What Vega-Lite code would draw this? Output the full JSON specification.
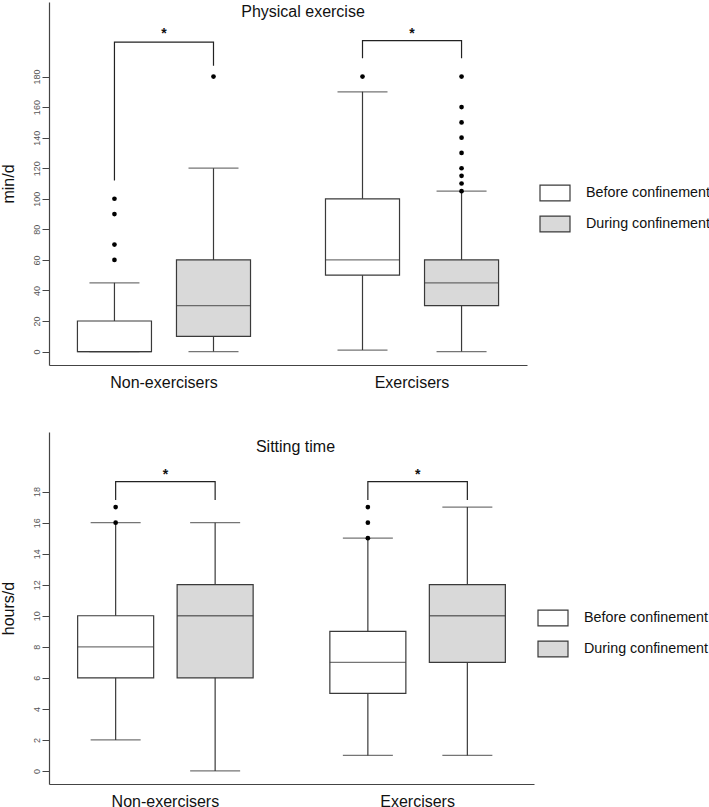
{
  "$schema": "https://vega.github.io/schema/vega-lite/v6.json",
  "padding": {"left": 0, "top": 2, "right": 0, "bottom": 0},
  "spacing": 42,
  "config": {
    "view": {"stroke": null},
    "font": "Liberation Sans",
    "axis": {"grid": false, "domainColor": "#444", "tickColor": "#444", "domainWidth": 1.2, "labelOverlap": false},
    "axisY": {"labelAngle": -90, "labelAlign": "center", "labelBaseline": "bottom", "labelFontSize": 9, "labelColor": "#555", "labelPadding": 1, "tickSize": 7, "labelOverlap": false,
      "titleFontSize": 16, "titleFontWeight": "normal", "titleColor": "#111", "titlePadding": 16},
    "legend": {"padding": 0}
  },
  "resolve": {"scale": {"x": "independent", "y": "independent", "fill": "independent", "xOffset": "independent"}, "legend": {"fill": "independent"}},
  "vconcat": [
    {
      "width": 478,
      "height": 363,
      "title": {"text": "Physical exercise", "anchor": "middle", "frame": "group", "offset": -18, "dx": 15, "fontSize": 16, "fontWeight": "normal", "font": "Liberation Sans", "color": "#111"},
      "encoding": {
        "x": {"field": "group", "type": "nominal", "sort": ["Non-exercisers", "Exercisers"], "scale": {"paddingInner": 0.2, "paddingOuter": 0.0635},
          "axis": {"title": null, "ticks": false, "labelAngle": 0, "labelFontSize": 16, "labelPadding": 9, "labelColor": "#111"}}
      },
      "layer": [
        {
          "data": {"values": [
            {"group": "Non-exercisers", "cond": "Before confinement", "lo": 0, "q1": 0, "med": 0, "q3": 20, "hi": 45},
            {"group": "Non-exercisers", "cond": "During confinement", "lo": 0, "q1": 10, "med": 30, "q3": 60, "hi": 120},
            {"group": "Exercisers", "cond": "Before confinement", "lo": 1, "q1": 50, "med": 60, "q3": 100, "hi": 170},
            {"group": "Exercisers", "cond": "During confinement", "lo": 0, "q1": 30, "med": 45, "q3": 60, "hi": 105}
          ]},
          "encoding": {
            "xOffset": {"field": "cond", "type": "nominal", "sort": ["Before confinement", "During confinement"], "scale": {"paddingInner": 0.2525, "paddingOuter": 0.128}}
          },
          "layer": [
            {"mark": {"type": "rule", "color": "#3a3a3a", "strokeWidth": 1.2},
             "encoding": {"y": {"field": "lo", "type": "quantitative", "scale": {"domain": [-8.8, 228.8], "nice": false, "zero": false},
               "axis": {"title": "min/d", "values": [0, 20, 40, 60, 80, 100, 120, 140, 160, 180]}},
               "y2": {"field": "hi"}}},
            {"mark": {"type": "bar", "stroke": "#3a3a3a", "strokeWidth": 1.2},
             "encoding": {"y": {"field": "q1", "type": "quantitative", "axis": {"title": "min/d", "values": [0, 20, 40, 60, 80, 100, 120, 140, 160, 180]}}, "y2": {"field": "q3"},
               "fill": {"field": "cond", "type": "nominal", "scale": {"domain": ["Before confinement", "During confinement"], "range": ["#ffffff", "#d9d9d9"]},
                 "legend": {"title": null, "orient": "none", "legendX": 490, "legendY": 175, "symbolType": "M-1,-0.53H1V0.53H-1Z", "symbolSize": 900,
                   "symbolStrokeColor": "#3a3a3a", "symbolStrokeWidth": 1.2, "labelFontSize": 14.3, "labelColor": "#111", "labelOffset": 15, "rowPadding": 4}}}},
            {"mark": {"type": "tick", "color": "#3a3a3a", "thickness": 1.3, "size": 74, "orient": "horizontal"},
             "encoding": {"y": {"field": "med", "type": "quantitative", "axis": {"title": "min/d", "values": [0, 20, 40, 60, 80, 100, 120, 140, 160, 180]}}}},
            {"mark": {"type": "tick", "color": "#3a3a3a", "thickness": 1.2, "size": 50, "orient": "horizontal"},
             "encoding": {"y": {"field": "lo", "type": "quantitative", "axis": {"title": "min/d", "values": [0, 20, 40, 60, 80, 100, 120, 140, 160, 180]}}}},
            {"mark": {"type": "tick", "color": "#3a3a3a", "thickness": 1.2, "size": 50, "orient": "horizontal"},
             "encoding": {"y": {"field": "hi", "type": "quantitative", "axis": {"title": "min/d", "values": [0, 20, 40, 60, 80, 100, 120, 140, 160, 180]}}}}
          ]
        },
        {
          "data": {"values": [
            {"group": "Non-exercisers", "cond": "Before confinement", "v": 60},
            {"group": "Non-exercisers", "cond": "Before confinement", "v": 70},
            {"group": "Non-exercisers", "cond": "Before confinement", "v": 90},
            {"group": "Non-exercisers", "cond": "Before confinement", "v": 100},
            {"group": "Non-exercisers", "cond": "During confinement", "v": 180},
            {"group": "Exercisers", "cond": "Before confinement", "v": 180},
            {"group": "Exercisers", "cond": "During confinement", "v": 105},
            {"group": "Exercisers", "cond": "During confinement", "v": 110},
            {"group": "Exercisers", "cond": "During confinement", "v": 115},
            {"group": "Exercisers", "cond": "During confinement", "v": 120},
            {"group": "Exercisers", "cond": "During confinement", "v": 130},
            {"group": "Exercisers", "cond": "During confinement", "v": 140},
            {"group": "Exercisers", "cond": "During confinement", "v": 150},
            {"group": "Exercisers", "cond": "During confinement", "v": 160},
            {"group": "Exercisers", "cond": "During confinement", "v": 180}
          ]},
          "mark": {"type": "point", "filled": true, "color": "#000", "size": 22, "opacity": 1},
          "encoding": {"xOffset": {"field": "cond", "type": "nominal", "sort": ["Before confinement", "During confinement"]}, "y": {"field": "v", "type": "quantitative", "axis": {"title": "min/d", "values": [0, 20, 40, 60, 80, 100, 120, 140, 160, 180]}}}
        },
        {
          "data": {"values": [
            {"group": "Non-exercisers", "cond": "Before confinement", "v": 112, "ord": 1},
            {"group": "Non-exercisers", "cond": "Before confinement", "v": 202.6, "ord": 2},
            {"group": "Non-exercisers", "cond": "During confinement", "v": 202.6, "ord": 3},
            {"group": "Non-exercisers", "cond": "During confinement", "v": 187, "ord": 4},
            {"group": "Exercisers", "cond": "Before confinement", "v": 192, "ord": 1},
            {"group": "Exercisers", "cond": "Before confinement", "v": 203.5, "ord": 2},
            {"group": "Exercisers", "cond": "During confinement", "v": 203.5, "ord": 3},
            {"group": "Exercisers", "cond": "During confinement", "v": 192, "ord": 4}
          ]},
          "mark": {"type": "line", "color": "#222", "strokeWidth": 1.2},
          "encoding": {"xOffset": {"field": "cond", "type": "nominal", "sort": ["Before confinement", "During confinement"]}, "y": {"field": "v", "type": "quantitative", "axis": {"title": "min/d", "values": [0, 20, 40, 60, 80, 100, 120, 140, 160, 180]}}, "detail": {"field": "group"}, "order": {"field": "ord", "type": "quantitative"}}
        },
        {
          "data": {"values": [
            {"group": "Non-exercisers", "v": 205, "s": "*"},
            {"group": "Exercisers", "v": 205.5, "s": "*"}
          ]},
          "mark": {"type": "text", "fontSize": 14, "fontWeight": "bold", "baseline": "alphabetic", "color": "#111"},
          "encoding": {"y": {"field": "v", "type": "quantitative", "axis": {"title": "min/d", "values": [0, 20, 40, 60, 80, 100, 120, 140, 160, 180]}}, "text": {"field": "s"}}
        }
      ]
    },
    {
      "width": 485,
      "height": 352,
      "title": {"text": "Sitting time", "anchor": "middle", "frame": "group", "offset": -23, "dx": 4, "fontSize": 16, "fontWeight": "normal", "font": "Liberation Sans", "color": "#111"},
      "encoding": {
        "x": {"field": "group", "type": "nominal", "sort": ["Non-exercisers", "Exercisers"], "scale": {"paddingInner": 0.2, "paddingOuter": 0.0615},
          "axis": {"title": null, "ticks": false, "labelAngle": 0, "labelFontSize": 16, "labelPadding": 9, "labelColor": "#111"}}
      },
      "layer": [
        {
          "data": {"values": [
            {"group": "Non-exercisers", "cond": "Before confinement", "lo": 2, "q1": 6, "med": 8, "q3": 10, "hi": 16},
            {"group": "Non-exercisers", "cond": "During confinement", "lo": 0, "q1": 6, "med": 10, "q3": 12, "hi": 16},
            {"group": "Exercisers", "cond": "Before confinement", "lo": 1, "q1": 5, "med": 7, "q3": 9, "hi": 15},
            {"group": "Exercisers", "cond": "During confinement", "lo": 1, "q1": 7, "med": 10, "q3": 12, "hi": 17}
          ]},
          "encoding": {
            "xOffset": {"field": "cond", "type": "nominal", "sort": ["Before confinement", "During confinement"], "scale": {"paddingInner": 0.236, "paddingOuter": 0.132}}
          },
          "layer": [
            {"mark": {"type": "rule", "color": "#3a3a3a", "strokeWidth": 1.2},
             "encoding": {"y": {"field": "lo", "type": "quantitative", "scale": {"domain": [-0.84, 21.84], "nice": false, "zero": false},
               "axis": {"title": "hours/d", "values": [0, 2, 4, 6, 8, 10, 12, 14, 16, 18]}},
               "y2": {"field": "hi"}}},
            {"mark": {"type": "bar", "stroke": "#3a3a3a", "strokeWidth": 1.2},
             "encoding": {"y": {"field": "q1", "type": "quantitative", "axis": {"title": "hours/d", "values": [0, 2, 4, 6, 8, 10, 12, 14, 16, 18]}}, "y2": {"field": "q3"},
               "fill": {"field": "cond", "type": "nominal", "scale": {"domain": ["Before confinement", "During confinement"], "range": ["#ffffff", "#d9d9d9"]},
                 "legend": {"title": null, "orient": "none", "legendX": 488, "legendY": 170, "symbolType": "M-1,-0.53H1V0.53H-1Z", "symbolSize": 900,
                   "symbolStrokeColor": "#3a3a3a", "symbolStrokeWidth": 1.2, "labelFontSize": 14.3, "labelColor": "#111", "labelOffset": 15, "rowPadding": 4}}}},
            {"mark": {"type": "tick", "color": "#3a3a3a", "thickness": 1.3, "size": 76, "orient": "horizontal"},
             "encoding": {"y": {"field": "med", "type": "quantitative", "axis": {"title": "hours/d", "values": [0, 2, 4, 6, 8, 10, 12, 14, 16, 18]}}}},
            {"mark": {"type": "tick", "color": "#3a3a3a", "thickness": 1.2, "size": 50, "orient": "horizontal"},
             "encoding": {"y": {"field": "lo", "type": "quantitative", "axis": {"title": "hours/d", "values": [0, 2, 4, 6, 8, 10, 12, 14, 16, 18]}}}},
            {"mark": {"type": "tick", "color": "#3a3a3a", "thickness": 1.2, "size": 50, "orient": "horizontal"},
             "encoding": {"y": {"field": "hi", "type": "quantitative", "axis": {"title": "hours/d", "values": [0, 2, 4, 6, 8, 10, 12, 14, 16, 18]}}}}
          ]
        },
        {
          "data": {"values": [
            {"group": "Non-exercisers", "cond": "Before confinement", "v": 16},
            {"group": "Non-exercisers", "cond": "Before confinement", "v": 17},
            {"group": "Exercisers", "cond": "Before confinement", "v": 15},
            {"group": "Exercisers", "cond": "Before confinement", "v": 16},
            {"group": "Exercisers", "cond": "Before confinement", "v": 17}
          ]},
          "mark": {"type": "point", "filled": true, "color": "#000", "size": 22, "opacity": 1},
          "encoding": {"xOffset": {"field": "cond", "type": "nominal", "sort": ["Before confinement", "During confinement"]}, "y": {"field": "v", "type": "quantitative", "axis": {"title": "hours/d", "values": [0, 2, 4, 6, 8, 10, 12, 14, 16, 18]}}}
        },
        {
          "data": {"values": [
            {"group": "Non-exercisers", "cond": "Before confinement", "v": 17.46, "ord": 1},
            {"group": "Non-exercisers", "cond": "Before confinement", "v": 18.64, "ord": 2},
            {"group": "Non-exercisers", "cond": "During confinement", "v": 18.64, "ord": 3},
            {"group": "Non-exercisers", "cond": "During confinement", "v": 17.46, "ord": 4},
            {"group": "Exercisers", "cond": "Before confinement", "v": 17.46, "ord": 1},
            {"group": "Exercisers", "cond": "Before confinement", "v": 18.64, "ord": 2},
            {"group": "Exercisers", "cond": "During confinement", "v": 18.64, "ord": 3},
            {"group": "Exercisers", "cond": "During confinement", "v": 17.46, "ord": 4}
          ]},
          "mark": {"type": "line", "color": "#222", "strokeWidth": 1.2},
          "encoding": {"xOffset": {"field": "cond", "type": "nominal", "sort": ["Before confinement", "During confinement"]}, "y": {"field": "v", "type": "quantitative", "axis": {"title": "hours/d", "values": [0, 2, 4, 6, 8, 10, 12, 14, 16, 18]}}, "detail": {"field": "group"}, "order": {"field": "ord", "type": "quantitative"}}
        },
        {
          "data": {"values": [
            {"group": "Non-exercisers", "v": 18.8, "s": "*"},
            {"group": "Exercisers", "v": 18.8, "s": "*"}
          ]},
          "mark": {"type": "text", "fontSize": 14, "fontWeight": "bold", "baseline": "alphabetic", "color": "#111"},
          "encoding": {"y": {"field": "v", "type": "quantitative", "axis": {"title": "hours/d", "values": [0, 2, 4, 6, 8, 10, 12, 14, 16, 18]}}, "text": {"field": "s"}}
        }
      ]
    }
  ]
}
